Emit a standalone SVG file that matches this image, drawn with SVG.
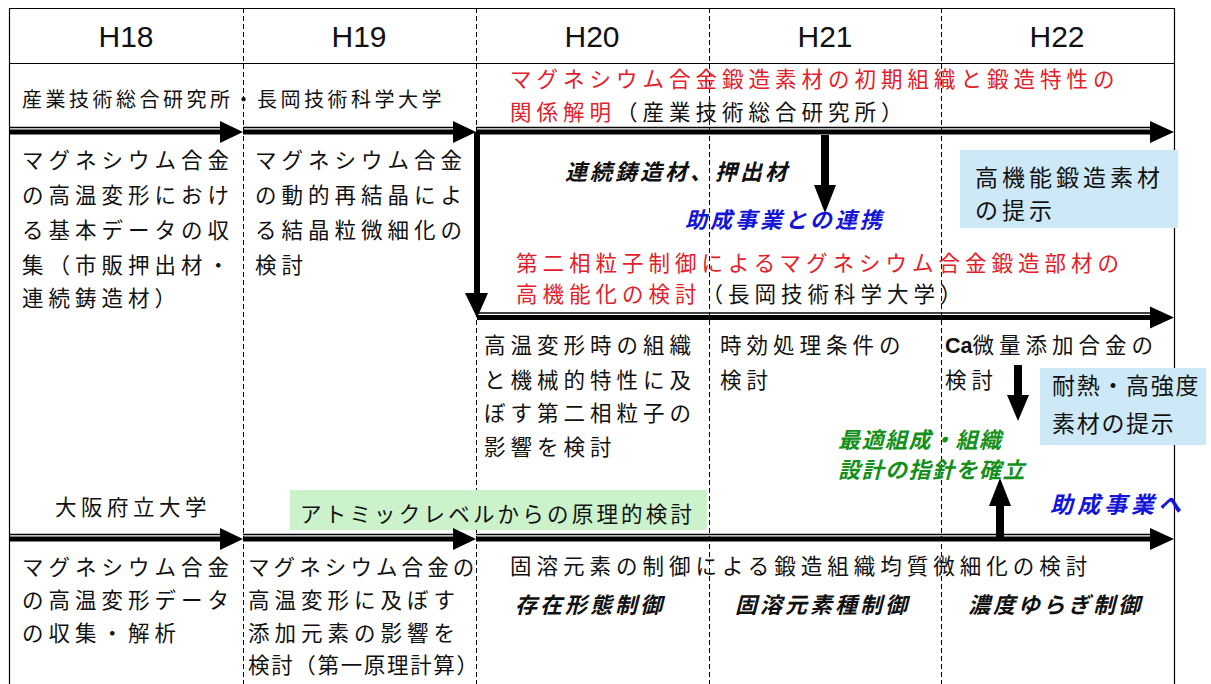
<svg xmlns="http://www.w3.org/2000/svg" width="1211" height="684" viewBox="0 0 1211 684">
<defs>
<style>
text{font-family:"Liberation Sans","Noto Sans CJK JP",sans-serif;fill:#111}
.hd{font-size:30px;text-anchor:middle}
.t{font-size:21.5px;letter-spacing:5px}
.h{font-size:20px;letter-spacing:3.5px}
.bi{font-size:22px;font-weight:bold;font-style:italic;letter-spacing:3px}
.red{fill:#e3202a}
.blue{fill:#1515d8}
.green{fill:#14901a}
.dash{stroke:#000;stroke-width:1;stroke-dasharray:5 3}
.thick{stroke:#000;stroke-width:5}
.thin{stroke:#000;stroke-width:1.6}
.head{fill:#000}
</style>
</defs>
<rect width="1211" height="684" fill="#fff"/>
<g id="frame">
<path d="M9.5 690V8.5H1174.5V690M9.5 63.5H1174.5" fill="none" stroke="#000" stroke-width="1.2"/>
<path class="dash" d="M243.5 8V684M476.5 8V684M709.5 8V684M941.5 8V684"/>
</g>
<g id="header">
<text class="hd" x="126" y="47">H18</text>
<text class="hd" x="359" y="47">H19</text>
<text class="hd" x="592" y="47">H20</text>
<text class="hd" x="825" y="47">H21</text>
<text class="hd" x="1057" y="47">H22</text>
</g>
<g id="boxes">
<rect x="960" y="150" width="218" height="78" fill="#cde9f7"/>
<rect x="1040" y="368" width="166" height="77" fill="#cde9f7"/>
<rect x="290" y="490" width="417" height="40" fill="#ccf2cc"/>
</g>
<g id="connectors">
<path class="thin" d="M9 127.5H222M243 127.5H455M476 127.5H1152"/>
<path class="thick" d="M9 132H222M243 132H455M476 132H1152"/>
<polygon class="head" points="220,121 243,132 220,143"/>
<polygon class="head" points="453,121 476,132 453,143"/>
<polygon class="head" points="1150,121 1174,132 1150,143"/>
<path d="M477 132V296" stroke="#000" stroke-width="6"/>
<polygon class="head" points="465,293 488,293 477,318"/>
<path class="thin" d="M477 313H1152"/>
<path class="thick" d="M477 317.5H1152"/>
<polygon class="head" points="1150,306.5 1174,317.5 1150,328.5"/>
<path d="M825 135V188" stroke="#000" stroke-width="8"/>
<polygon class="head" points="814,185 836,185 825,213"/>
<path d="M1018 365V398" stroke="#000" stroke-width="8"/>
<polygon class="head" points="1007,395 1029,395 1018,421"/>
<path d="M1000 537V503" stroke="#000" stroke-width="8"/>
<polygon class="head" points="989,506 1011,506 1000,478"/>
<path class="thin" d="M9 534.5H222M243 534.5H455M476 534.5H1152"/>
<path class="thick" d="M9 539H222M243 539H455M476 539H1152"/>
<polygon class="head" points="220,528 243,539 220,550"/>
<polygon class="head" points="453,528 476,539 453,550"/>
<polygon class="head" points="1150,528 1174,539 1150,550"/>
</g>
<g id="row1-labels">
<text class="h" x="22" y="107">産業技術総合研究所・長岡技術科学大学</text>
<text class="t red" x="510" y="87">マグネシウム合金鍛造素材の初期組織と鍛造特性の</text>
<text class="t" x="510" y="120"><tspan class="red">関係解明</tspan>（産業技術総合研究所）</text>
</g>
<g id="row1-h18">
<text class="t" x="22" y="168">マグネシウム合金</text>
<text class="t" x="22" y="203">の高温変形におけ</text>
<text class="t" x="22" y="238">る基本データの収</text>
<text class="t" x="22" y="273">集（市販押出材・</text>
<text class="t" x="22" y="306">連続鋳造材）</text>
</g>
<g id="row1-h19">
<text class="t" x="255" y="168">マグネシウム合金</text>
<text class="t" x="255" y="203">の動的再結晶によ</text>
<text class="t" x="255" y="238">る結晶粒微細化の</text>
<text class="t" x="255" y="273">検討</text>
</g>
<g id="row1-mid">
<text class="bi" x="565" y="180">連続鋳造材、押出材</text>
<text class="bi blue" x="685" y="228">助成事業との連携</text>
<text class="t red" x="516" y="271">第二相粒子制御によるマグネシウム合金鍛造部材の</text>
<text class="t" x="516" y="302"><tspan class="red">高機能化の検討</tspan>（長岡技術科学大学）</text>
</g>
<g id="goal1">
<text x="975" y="186" style="font-size:23px;letter-spacing:4px">高機能鍛造素材</text>
<text x="975" y="219" style="font-size:23px;letter-spacing:4px">の提示</text>
</g>
<g id="row2-h20">
<text class="t" x="484" y="353">高温変形時の組織</text>
<text class="t" x="484" y="388">と機械的特性に及</text>
<text class="t" x="484" y="421">ぼす第二相粒子の</text>
<text class="t" x="484" y="455">影響を検討</text>
</g>
<g id="row2-h21">
<text class="t" x="720" y="353">時効処理条件の</text>
<text class="t" x="720" y="388">検討</text>
</g>
<g id="row2-h22">
<text class="t" x="945" y="353"><tspan font-weight="bold" letter-spacing="0">Ca</tspan>微量添加合金の</text>
<text class="t" x="945" y="388">検討</text>
</g>
<g id="goal2">
<text x="1052" y="394" style="font-size:23px;letter-spacing:1.7px">耐熱・高強度</text>
<text x="1052" y="432" style="font-size:23px;letter-spacing:1.7px">素材の提示</text>
</g>
<g id="guideline">
<text class="bi green" x="838" y="448" style="font-size:22px;letter-spacing:1.5px">最適組成・組織</text>
<text class="bi green" x="838" y="478" style="font-size:22px;letter-spacing:1.5px">設計の指針を確立</text>
</g>
<g id="to-grant">
<text class="bi blue" x="1050" y="513" style="font-size:23px;letter-spacing:4px">助成事業へ</text>
</g>
<g id="row3-labels">
<text class="t" x="55" y="515" style="letter-spacing:4.5px">大阪府立大学</text>
<text class="t" x="300" y="522" style="letter-spacing:3.2px">アトミックレベルからの原理的検討</text>
</g>
<g id="row3-h18">
<text class="t" x="22" y="575">マグネシウム合金</text>
<text class="t" x="22" y="608">の高温変形データ</text>
<text class="t" x="22" y="641">の収集・解析</text>
</g>
<g id="row3-h19">
<text class="t" x="248" y="575" style="letter-spacing:4.1px">マグネシウム合金の</text>
<text class="t" x="248" y="608">高温変形に及ぼす</text>
<text class="t" x="248" y="641">添加元素の影響を</text>
<text class="t" x="248" y="673" textLength="230" lengthAdjust="spacing" style="letter-spacing:0">検討（第一原理計算）</text>
</g>
<g id="row3-mid">
<text class="t" x="510" y="574">固溶元素の制御による鍛造組織均質微細化の検討</text>
<text class="bi" x="515" y="613">存在形態制御</text>
<text class="bi" x="735" y="613">固溶元素種制御</text>
<text class="bi" x="968" y="613">濃度ゆらぎ制御</text>
</g>
</svg>
